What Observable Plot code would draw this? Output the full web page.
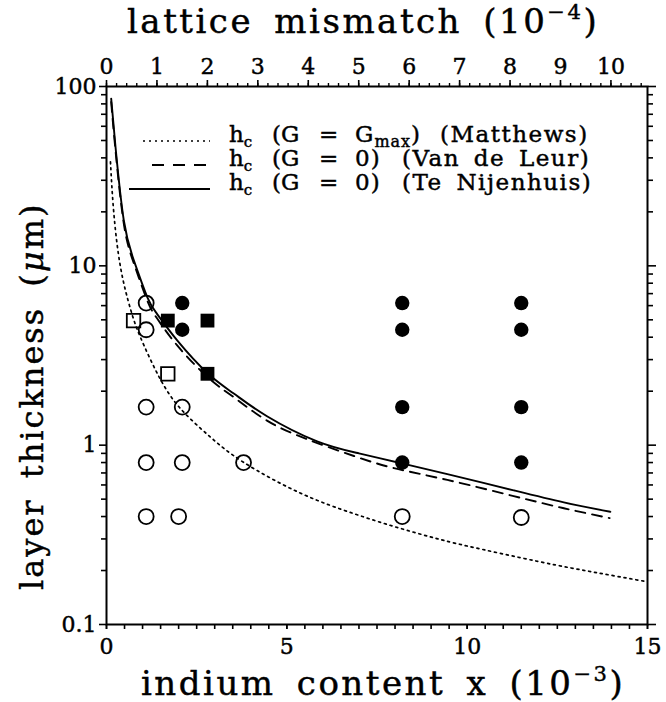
<!DOCTYPE html>
<html>
<head>
<meta charset="utf-8">
<script src="https://cdn.jsdelivr.net/npm/d3@7"></script>
<script src="https://cdn.jsdelivr.net/npm/@observablehq/plot@0.6"></script>
<style>
  html, body { margin: 0; padding: 0; background: #fff; }
  #chart svg { display: block; }
  #chart text { white-space: pre; stroke: black; stroke-width: 0.45px; }
</style>
</head>
<body>
<div id="chart"></div>
<script>
// Critical layer thickness vs. indium content (x in units of 1e-3)
// mismatch (1e-4) per unit of indium content (1e-3)
const mismatchPerX = 0.715;

// Critical thickness curves (x, h in µm)
const matthewsX = [0.11, 0.2, 0.39, 0.67, 0.94, 1.45, 2.05, 2.88, 3.81, 5.38, 6.86, 7.97, 8.98, 10, 12, 13.5, 15];
const matthewsH = [38, 20, 9.8, 5.7, 4.0, 2.42, 1.6, 1.11, 0.8, 0.54, 0.415, 0.352, 0.308, 0.274, 0.224, 0.196, 0.173];

const vanDeLeurX = [0.13, 0.25, 0.48, 0.76, 1.13, 1.4, 1.96, 2.82, 3.53, 4.45, 5.56, 6.86, 7.97, 9.45, 11.29, 12.68, 13.95];
const vanDeLeurH = [82, 44, 17.2, 10.3, 6.4, 5.1, 3.6, 2.38, 1.85, 1.37, 1.08, 0.87, 0.745, 0.64, 0.52, 0.445, 0.392];

const nijenhuisX = [0.13, 0.25, 0.48, 0.76, 1.13, 1.4, 1.96, 2.82, 3.53, 4.45, 5.84, 7.0, 8.2, 9.45, 11.29, 12.68, 13.97];
const nijenhuisH = [85.5, 46, 17.9, 10.7, 6.7, 5.4, 3.84, 2.5, 1.94, 1.45, 1.05, 0.9, 0.79, 0.69, 0.56, 0.48, 0.425];

// Samples
const openCircleX = [1.1, 1.1, 1.1, 2.1, 1.1, 2.1, 3.8, 1.1, 2.0, 8.2, 11.5];
const openCircleH = [6.2, 4.4, 1.63, 1.63, 0.8, 0.8, 0.8, 0.4, 0.4, 0.4, 0.395];
const filledCircleX = [2.1, 2.1, 8.2, 8.2, 8.2, 8.2, 11.5, 11.5, 11.5, 11.5];
const filledCircleH = [6.2, 4.4, 6.2, 4.4, 1.63, 0.8, 6.2, 4.4, 1.63, 0.8];
const openSquareX = [0.75, 1.7];
const openSquareH = [4.95, 2.5];
const filledSquareX = [1.7, 2.8, 2.8];
const filledSquareH = [4.95, 4.95, 2.5];

// Axis ticks
const bottomMajor = [0, 5, 10, 15];
const bottomMinor = d3.range(0, 15.001, 0.5);
const topMajor = d3.range(0, 11, 1);
const topMinor = d3.range(0, 10.7, 0.2);
const yMajor = [0.1, 1, 10, 100];
const yMajorLabels = ["0.1", "1", "10", "100"];
const yMinor = [0.1, 1, 10].flatMap(d => d3.range(2, 10).map(k => +(d * k).toPrecision(3)));

const pts = (xs, hs) => xs.map((x, i) => ({x, h: hs[i]}));

const font = "DejaVu Serif";
const chart = Plot.plot({
  width: 666,
  height: 702,
  marginLeft: 106,
  marginRight: 19,
  marginTop: 86,
  marginBottom: 78,
  x: {domain: [0, 15]},
  y: {type: "log", domain: [0.1, 100]},
  style: {fontFamily: font, fontSize: "22px", color: "black", background: "white", overflow: "visible"},
  marks: [
    // bottom axis
    Plot.axisX(bottomMinor, {anchor: "bottom", tickSize: 5, strokeWidth: 1.6, tickFormat: () => "", label: null}),
    Plot.axisX(bottomMajor, {anchor: "bottom", tickSize: 5, strokeWidth: 1.6, tickPadding: 9, label: null, fontSize: 22}),
    // top axis: lattice mismatch
    Plot.axisX(topMinor.map(m => m / mismatchPerX), {anchor: "top", tickSize: 4, strokeWidth: 1.4, tickFormat: () => "", label: null}),
    Plot.axisX(topMajor.map(m => m / mismatchPerX), {anchor: "top", tickSize: 7, strokeWidth: 1.6, tickPadding: 6, label: null, fontSize: 22,
      tickFormat: d => String(Math.round(d * mismatchPerX))}),
    // left axis
    Plot.axisY(yMinor, {anchor: "left", tickSize: 5, strokeWidth: 1.6, tickFormat: () => "", label: null}),
    Plot.axisY(yMajor, {anchor: "left", tickSize: 7, strokeWidth: 1.6, tickPadding: 3, label: null, fontSize: 22,
      tickFormat: d => yMajorLabels[yMajor.indexOf(d)]}),
    // right axis
    Plot.axisY(yMinor, {anchor: "right", tickSize: 5, strokeWidth: 1.6, tickFormat: () => "", label: null}),
    Plot.axisY(yMajor, {anchor: "right", tickSize: 8, strokeWidth: 1.6, tickFormat: () => "", label: null}),
    Plot.frame({stroke: "black", strokeWidth: 2}),
    // curves
    Plot.line(pts(matthewsX, matthewsH), {x: "x", y: "h", stroke: "black", strokeWidth: 1.7, strokeDasharray: "2,4", curve: "natural"}),
    Plot.line(pts(vanDeLeurX, vanDeLeurH), {x: "x", y: "h", stroke: "black", strokeWidth: 1.9, strokeDasharray: "10,7", curve: "natural"}),
    Plot.line(pts(nijenhuisX, nijenhuisH), {x: "x", y: "h", stroke: "black", strokeWidth: 1.9, curve: "natural"}),
    // samples
    Plot.dot(pts(openCircleX, openCircleH), {x: "x", y: "h", r: 7.5, stroke: "black", strokeWidth: 1.8, fill: "none"}),
    Plot.dot(pts(filledCircleX, filledCircleH), {x: "x", y: "h", r: 7.2, fill: "black", stroke: "none"}),
    Plot.dot(pts(openSquareX, openSquareH), {x: "x", y: "h", symbol: "square", r: 7.6, stroke: "black", strokeWidth: 1.8, fill: "none"}),
    Plot.dot(pts(filledSquareX, filledSquareH), {x: "x", y: "h", symbol: "square", r: 7.8, fill: "black", stroke: "none"})
  ]
});

document.getElementById("chart").appendChild(chart);

// Titles and legend
const svg = d3.select(chart);

function titled(g, x, y, base, exp, size) {
  const t = g.append("text").attr("x", x).attr("y", y).attr("text-anchor", "start")
    .attr("font-family", font).attr("font-size", size).attr("fill", "black")
    .attr("letter-spacing", 2.5).attr("word-spacing", 8);
  t.append("tspan").text(base);
  t.append("tspan").attr("dy", -size * 0.42).attr("font-size", size * 0.62).text("−" + exp);
  t.append("tspan").attr("dy", size * 0.42).text(")");
  return t;
}

titled(svg, 127, 33, "lattice mismatch (10", "4", 34);
titled(svg, 141, 695, "indium content x (10", "3", 34);

const yTitle = svg.append("text")
  .attr("transform", "translate(43,590) rotate(-90)").attr("text-anchor", "start")
  .attr("font-family", font).attr("font-size", 32).attr("fill", "black")
  .attr("letter-spacing", 2).attr("word-spacing", 8);
yTitle.append("tspan").text("layer thickness (");
yTitle.append("tspan").attr("font-style", "italic").text("μ");
yTitle.append("tspan").text("m)");

const legend = svg.append("g").attr("font-family", font).attr("font-size", 23)
  .attr("fill", "black").attr("text-anchor", "start");
const rows = [
  {y: 142, dash: "2,4", lead: 143, sub: "max", name: "(Matthews)", nameX: 440},
  {y: 166, dash: "12,9", lead: 152, sub: null, name: "(Van de Leur)", nameX: 402},
  {y: 190, dash: null, lead: 129, sub: null, name: "(Te Nijenhuis)", nameX: 402}
];
rows.forEach(r => {
  legend.append("line")
    .attr("x1", r.lead).attr("x2", 210).attr("y1", r.y - 1).attr("y2", r.y - 1)
    .attr("stroke", "black").attr("stroke-width", r.dash === "2,4" ? 1.7 : 1.9)
    .attr("stroke-dasharray", r.dash);
  const h = legend.append("text").attr("x", 229).attr("y", r.y);
  h.append("tspan").text("h");
  h.append("tspan").attr("dy", 5).attr("font-size", 15).text("c");
  legend.append("text").attr("x", 272).attr("y", r.y).text("(G");
  legend.append("text").attr("x", 319).attr("y", r.y).text("=");
  const v = legend.append("text").attr("x", 355).attr("y", r.y).attr("letter-spacing", 1);
  if (r.sub) {
    v.append("tspan").text("G");
    v.append("tspan").attr("dy", 5).attr("font-size", 16).text(r.sub);
    v.append("tspan").attr("dy", -5).text(")");
  } else {
    v.append("tspan").text("0)");
  }
  legend.append("text").attr("x", r.nameX).attr("y", r.y)
    .attr("letter-spacing", 1.5).attr("word-spacing", 5).text(r.name);
});
</script>
</body>
</html>
